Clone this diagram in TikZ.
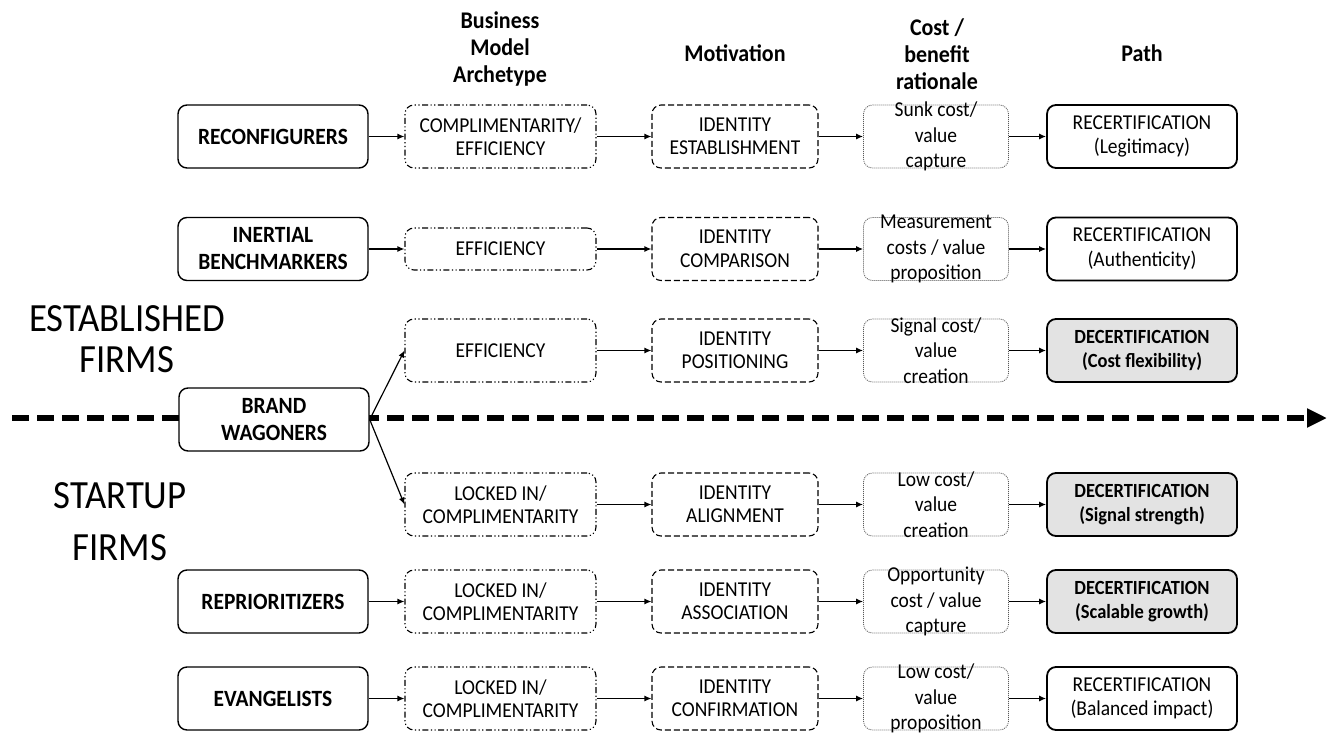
\documentclass[tikz,border=0pt]{standalone}
\usepackage{fontspec}
\setmainfont{Carlito}[FakeStretch=0.92]
\usetikzlibrary{arrows.meta}

\begin{document}
\begin{tikzpicture}[
		x=1pt, y=-1pt,
		box/.style={rounded corners=9pt, minimum height=63pt, align=center, fill=white, inner sep=2pt},
		firm/.style={box, draw, line width=1.4pt, minimum width=190pt, font=\fontsize{23.3}{27}\selectfont\bfseries},
		arch/.style={box, draw, line width=1.1pt, minimum width=191pt, dash pattern=on 6pt off 2.5pt on 1.2pt off 2.5pt on 1.2pt off 2.5pt, font=\fontsize{21.2}{23.5}\selectfont},
		motive/.style={box, draw, line width=1.1pt, minimum width=166pt, dash pattern=on 6pt off 3pt, font=\fontsize{21.2}{23.5}\selectfont},
		costbox/.style={box, draw=black!65, line width=0.8pt, dash pattern=on 1pt off 1pt, minimum width=145pt},
		costtext/.style={align=center, inner sep=0pt, font=\fontsize{21.2}{25.5}\selectfont},
		pathbox/.style={box, draw, line width=1.8pt, minimum width=190pt, font=\fontsize{21.2}{24.5}\selectfont},
		decert/.style={pathbox, fill=black!11, font=\fontsize{20.1}{24.5}\selectfont\bfseries},
		flow/.style={-{Latex[length=7pt,width=6pt]}, line width=1.2pt},
		divider/.style={line width=6pt, dash pattern=on 17pt off 8pt, -{Triangle[length=20pt,width=18pt]}},
		head/.style={align=center, font=\fontsize{23.9}{27}\selectfont\bfseries},
		side/.style={align=center, font=\fontsize{40}{41}\selectfont}
	]
	\useasboundingbox (0,0) rectangle (1329,733);

	% column heads
	\node[head] (hArch) at (500,49) {Business\\Model\\Archetype};
	\node[head] (hMot) at (735,53) {Motivation};
	\node[head] (hCost) at (937,54) {Cost /\\benefit\\rationale};
	\node[head] (hPath) at (1142,53) {Path};

	% established / startup split
	\coordinate (divA) at (12,418);
	\coordinate (divB) at (1327,418);
	\draw[divider] (divA) -- (divB);
	\node[side] (established) at (127,339) {ESTABLISHED\\FIRMS};
	\node[side, font=\fontsize{40}{52}\selectfont] (startup) at (120,522) {STARTUP\\FIRMS};

	% reconfigurers
	\node[firm] (reconf) at (273,136.5) {RECONFIGURERS};
	\node[arch] (arch1) at (500.5,136.5) {COMPLIMENTARITY/\\EFFICIENCY};
	\node[motive] (mot1) at (735,136.5) {IDENTITY\\ESTABLISHMENT};
	\node[costbox, label={[costtext]center:Sunk cost/\\value\\capture}] (cost1) at (936,136.5) {};
	\node[pathbox] (path1) at (1142,136.5) {RECERTIFICATION\\(Legitimacy)};

	% inertial benchmarkers
	\node[firm] (inert) at (273,249) {INERTIAL\\BENCHMARKERS};
	\node[arch, minimum height=42pt] (arch2) at (500.5,249) {EFFICIENCY};
	\node[motive] (mot2) at (735,249) {IDENTITY\\COMPARISON};
	\node[costbox, label={[costtext]center:Measurement\\costs / value\\proposition}] (cost2) at (936,249) {};
	\node[pathbox] (path2) at (1142,249) {RECERTIFICATION\\(Authenticity)};

	% brand wagoners
	\node[firm] (brand) at (274,419.5) {BRAND\\WAGONERS};
	\node[arch] (arch3) at (500.5,350.5) {EFFICIENCY};
	\node[motive] (mot3) at (735,350.5) {IDENTITY\\POSITIONING};
	\node[costbox, label={[costtext]center:Signal cost/\\value\\creation}] (cost3) at (936,350.5) {};
	\node[decert] (path3) at (1142,350.5) {DECERTIFICATION\\(Cost flexibility)};
	\node[arch] (arch5) at (500.5,504.5) {LOCKED IN/\\COMPLIMENTARITY};
	\node[motive] (mot5) at (735,504.5) {IDENTITY\\ALIGNMENT};
	\node[costbox, label={[costtext]center:Low cost/\\value\\creation}] (cost5) at (936,504.5) {};
	\node[decert] (path5) at (1142,504.5) {DECERTIFICATION\\(Signal strength)};

	% reprioritizers
	\node[firm] (reprio) at (273,601.5) {REPRIORITIZERS};
	\node[arch] (arch6) at (500.5,601.5) {LOCKED IN/\\COMPLIMENTARITY};
	\node[motive] (mot6) at (735,601.5) {IDENTITY\\ASSOCIATION};
	\node[costbox, label={[costtext]center:Opportunity\\cost / value\\capture}] (cost6) at (936,601.5) {};
	\node[decert] (path6) at (1142,601.5) {DECERTIFICATION\\(Scalable growth)};

	% evangelists
	\node[firm] (evang) at (273,698.5) {EVANGELISTS};
	\node[arch] (arch7) at (500.5,698.5) {LOCKED IN/\\COMPLIMENTARITY};
	\node[motive] (mot7) at (735,698.5) {IDENTITY\\CONFIRMATION};
	\node[costbox, label={[costtext]center:Low cost/\\value\\proposition}] (cost7) at (936,698.5) {};
	\node[pathbox] (path7) at (1142,698.5) {RECERTIFICATION\\(Balanced impact)};

	% arrows
	\draw[flow] (reconf) -- (arch1);
	\draw[flow] (arch1) -- (mot1);
	\draw[flow] (mot1) -- (cost1);
	\draw[flow] (cost1) -- (path1);
	\draw[flow] (inert) -- (arch2);
	\draw[flow] (arch2) -- (mot2);
	\draw[flow] (mot2) -- (cost2);
	\draw[flow] (cost2) -- (path2);
	\draw[flow] (brand.east) -- (arch3.west);
	\draw[flow] (brand.east) -- (arch5.west);
	\draw[flow] (arch3) -- (mot3);
	\draw[flow] (mot3) -- (cost3);
	\draw[flow] (cost3) -- (path3);
	\draw[flow] (arch5) -- (mot5);
	\draw[flow] (mot5) -- (cost5);
	\draw[flow] (cost5) -- (path5);
	\draw[flow] (reprio) -- (arch6);
	\draw[flow] (arch6) -- (mot6);
	\draw[flow] (mot6) -- (cost6);
	\draw[flow] (cost6) -- (path6);
	\draw[flow] (evang) -- (arch7);
	\draw[flow] (arch7) -- (mot7);
	\draw[flow] (mot7) -- (cost7);
	\draw[flow] (cost7) -- (path7);
\end{tikzpicture}
\end{document}
